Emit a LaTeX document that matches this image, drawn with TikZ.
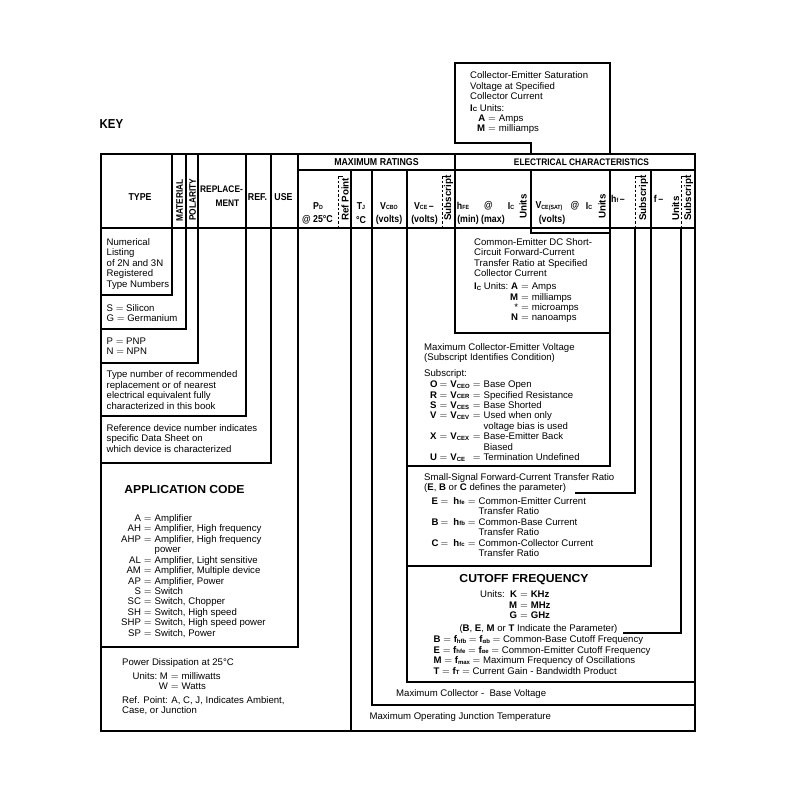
\documentclass[tikz,border=0pt]{standalone}
\usepackage{fontspec}
\usepackage{graphicx}
\setmainfont{Liberation Sans}
\newfontfamily\hfont{Liberation Sans}[FakeStretch=0.88]
\newcommand\sbs[1]{\raisebox{-0.5pt}{\fontsize{6}{6}\selectfont #1}}
\newcommand\eq{\ensuremath{=}}
\tikzset{
  ln/.style={line width=1.2pt},
  dsh/.style={line width=0.8pt, dash pattern=on 2.5pt off 2pt},
  tk/.style={line width=0.8pt},
  hd/.style={inner sep=0pt, font=\hfont\bfseries\fontsize{10}{11}\selectfont},
  rt/.style={inner sep=0pt, rotate=90, anchor=west, font=\bfseries\fontsize{9.8}{10}\selectfont},
  rtc/.style={inner sep=0pt, rotate=90, anchor=west, font=\hfont\bfseries\fontsize{9.5}{10}\selectfont},
  tx/.style={inner sep=0pt, anchor=north west, align=left, font=\fontsize{9.6}{10.45}\selectfont},
  tb/.style={inner sep=0pt, anchor=north west, font=\fontsize{9.6}{10.45}\selectfont},
  ttl/.style={inner sep=0pt, font=\bfseries\fontsize{11.6}{13}\selectfont},
}
\begin{document}
\begin{tikzpicture}[x=1pt,y=-1pt]
\fill[white] (0,0) rectangle (800,800);
\useasboundingbox (0,0) rectangle (800,800);

% ---------- frame and rules ----------
\draw[ln] (101,154) rectangle (695,731);
\draw[ln] (298,170) -- (695,170);
\draw[ln] (101,228) -- (695,228);
% left column boxes
\draw[ln] (172,154) |- (101,295);
\draw[ln] (186,154) |- (101,329);
\draw[ln] (198,154) |- (101,363);
\draw[ln] (246,154) |- (101,416);
\draw[ln] (271,154) |- (101,463);
\draw[ln] (298,154) |- (101,647);
\draw[ln] (351,170) -- (351,731);
\draw[ln] (372,170) |- (695,705);
\draw[ln] (407,170) |- (695,682);
\draw[ln] (455,154) |- (610,333);
% saturation box on top
\draw[ln] (531,154) -- (531,143) -- (455,143) -- (455,63) -- (610,63) -- (610,154);
\draw[ln] (531,170) |- (610,233);
\draw[ln] (610,170) |- (407,466);
\draw[ln] (651,170) |- (407,566);
% dashed sub-column dividers
\draw[dsh] (338,176) -- (338,227);  \draw[tk] (338,176) -- (343,176);
\draw[dsh] (442,176) -- (442,227);  \draw[tk] (442,176) -- (447,176);
\draw[dsh] (635,176) -- (635,228);  \draw[tk] (635,176) -- (640,176);
\draw[dsh] (681,176) -- (681,228);  \draw[tk] (681,176) -- (686,176);

% ---------- header texts ----------
\node[hd, font=\hfont\bfseries\fontsize{13}{14}\selectfont] (key) at (111.5,124) {KEY};
\node[hd] (mr) at (376.5,162) {MAXIMUM RATINGS};
\node[hd, font=\hfont\bfseries\fontsize{9.5}{11}\selectfont] (ec) at (581.5,162) {ELECTRICAL CHARACTERISTICS};
\node[hd] (type) at (140,197) {TYPE};
\node[rtc] (mat) at (179.5,222) {MATERIAL};
\node[rtc] (pol) at (192.5,221) {POLARITY};
\node[hd, font=\hfont\bfseries\fontsize{9.5}{11}\selectfont] (rep1) at (221.5,189.5) {REPLACE-};
\node[hd, font=\hfont\bfseries\fontsize{9.5}{11}\selectfont] (rep2) at (227.5,203) {MENT};
\node[hd] (refh) at (257.5,197) {REF.};
\node[hd] (useh) at (283.5,197) {USE};
\node[hd] (pd) at (318,206) {P\sbs{D}};
\node[hd] (pd2) at (317.5,220) {@ 25°C};
\node[rt] (rp) at (345,221) {Ref Point};
\node[hd] (tj) at (361,206) {T\sbs{J}};
\node[hd] (tj2) at (361,220) {°C};
\node[hd] (vcbo) at (389,206) {V\sbs{CBO}};
\node[hd] (vcbo2) at (389,220) {(volts)};
\node[hd] (vce) at (424,206) {V\sbs{CE}\,–};
\node[hd] (vce2) at (424.5,220) {(volts)};
\node[rt] (vces) at (448.5,221) {Subscript};
\node[hd] (hfe) at (463,206) {h\sbs{FE}};
\node[hd] (at1) at (488.5,206) {@};
\node[hd] (ic1) at (511,206) {I\sbs{C}};
\node[hd] (mm) at (481,220) {(min) (max)};
\node[rt] (un1) at (523,219) {Units};
\node[hd] (sat) at (549,206) {V\sbs{CE(SAT)}};
\node[hd] (at2) at (575,206) {@};
\node[hd] (ic2) at (589,206) {I\sbs{C}};
\node[hd] (sat2) at (552,220) {(volts)};
\node[rt] (un2) at (602,219) {Units};
\node[hd] (hf) at (618,199) {h\sbs{f}\,–};
\node[rt] (hfs) at (643.5,221) {Subscript};
\node[hd] (fcol) at (658.5,199) {{f}\,–};
\node[rt] (fu) at (675.5,221) {Units};
\node[rt] (fs) at (688.5,221) {Subscript};

% ---------- left column explanations ----------
\node[tx] (t1) at (106.5,238.2) {Numerical\\Listing\\of 2N and 3N\\Registered\\Type Numbers};
\node[tx] (t2) at (106.5,304.2) {S \eq{} Silicon\\G \eq{} Germanium};
\node[tx] (t3) at (106.5,337.2) {P \eq{} PNP\\N \eq{} NPN};
\node[tx] (t4) at (106.5,370.5) {Type number of recommended\\replacement or of nearest\\electrical equivalent fully\\characterized in this book};
\node[tx] (t5) at (106.5,424.2) {Reference device number indicates\\specific Data Sheet on\\which device is characterized};
\node[ttl] (app) at (184.5,489.5) {\scalebox{1.05}[1]{APPLICATION CODE}};
\node[tb] (appl) at (121,513.8) {\begin{tabular}{@{}r@{\hspace{3pt}}c@{\hspace{3pt}}l@{}}
A & \eq & Amplifier\\
AH & \eq & Amplifier, High frequency\\
AHP & \eq & Amplifier, High frequency\\
 & & power\\
AL & \eq & Amplifier, Light sensitive\\
AM & \eq & Amplifier, Multiple device\\
AP & \eq & Amplifier, Power\\
S & \eq & Switch\\
SC & \eq & Switch, Chopper\\
SH & \eq & Switch, High speed\\
SHP & \eq & Switch, High speed power\\
SP & \eq & Switch, Power
\end{tabular}};
\node[tx] (pdt) at (122,658.5) {Power Dissipation at 25°C};
\node[tb] (pdu) at (132.5,671.8) {\begin{tabular}{@{}r@{\hspace{3pt}}c@{\hspace{3pt}}l@{}}
Units:\ M & \eq & milliwatts\\
W & \eq & Watts
\end{tabular}};
\node[tx] (pdr) at (122,696.2) {Ref. Point: A, C, J, Indicates Ambient,\\Case, or Junction};

% ---------- saturation box ----------
\node[tx] (satt) at (470,71.5) {Collector-Emitter Saturation\\Voltage at Specified\\Collector Current};
\node[tx] (satu) at (470,104.2) {\textbf{I\sbs{C}} Units:};
\node[tb] (satl) at (477,113.8) {\begin{tabular}{@{}r@{\hspace{3pt}}c@{\hspace{3pt}}l@{}}
\textbf{A} & \eq & Amps\\
\textbf{M} & \eq & milliamps
\end{tabular}};

% ---------- hFE box ----------
\node[tx] (hfet) at (474,238.2) {Common-Emitter DC Short-\\Circuit Forward-Current\\Transfer Ratio at Specified\\Collector Current};
\node[tb] (hfeu) at (474,282.1) {\begin{tabular}{@{}r@{\hspace{3pt}}c@{\hspace{3pt}}l@{}}
\textbf{I\sbs{C}} Units:\ \textbf{A} & \eq & Amps\\
\textbf{M} & \eq & milliamps\\
{*} & \eq & microamps\\
\textbf{N} & \eq & nanoamps
\end{tabular}};

% ---------- VCE box ----------
\node[tx] (vcet) at (424,343.2) {Maximum Collector-Emitter Voltage\\(Subscript Identifies Condition)};
\node[tx] (vcesub) at (424,369.8) {Subscript:};
\node[tb] (vcel) at (430,380.1) {\begin{tabular}{@{}l@{\hspace{2pt}}c@{\hspace{3pt}}l@{\hspace{3pt}}c@{\hspace{3pt}}l@{}}
\textbf{O} & \eq & \textbf{V\sbs{CEO}} & \eq & Base Open\\
\textbf{R} & \eq & \textbf{V\sbs{CER}} & \eq & Specified Resistance\\
\textbf{S} & \eq & \textbf{V\sbs{CES}} & \eq & Base Shorted\\
\textbf{V} & \eq & \textbf{V\sbs{CEV}} & \eq & Used when only\\
 & & & & voltage bias is used\\
\textbf{X} & \eq & \textbf{V\sbs{CEX}} & \eq & Base-Emitter Back\\
 & & & & Biased\\
\textbf{U} & \eq & \textbf{V\sbs{CE}} & \eq & Termination Undefined
\end{tabular}};

% ---------- hf box ----------
\node[tx] (hft) at (424,473.2) {Small-Signal Forward-Current Transfer Ratio};
\node[tx] (hfp) at (424,483.7) {(\textbf{E}, \textbf{B} or \textbf{C} defines the parameter)};
\node[tb] (hfl) at (431.5,496.8) {\begin{tabular}{@{}l@{\hspace{2pt}}c@{\hspace{5pt}}l@{\hspace{3pt}}c@{\hspace{3pt}}l@{}}
\textbf{E} & \eq & \textbf{h\sbs{fe}} & \eq & Common-Emitter Current\\
 & & & & Transfer Ratio\\
\textbf{B} & \eq & \textbf{h\sbs{fb}} & \eq & Common-Base Current\\
 & & & & Transfer Ratio\\
\textbf{C} & \eq & \textbf{h\sbs{fc}} & \eq & Common-Collector Current\\
 & & & & Transfer Ratio
\end{tabular}};
\coordinate (hfend) at ([xshift=9pt]hfp.east);
\draw[ln] (635,228) -- (635,493) -- (hfend |- 0,493);

% ---------- cutoff frequency box ----------
\node[ttl] (cf) at (524,580) {\scalebox{1.05}[1]{CUTOFF FREQUENCY}};
\node[tb] (cfu) at (480,590.4) {\begin{tabular}{@{}r@{\hspace{3pt}}c@{\hspace{3pt}}l@{}}
Units:\ \ \textbf{K} & \eq & \textbf{KHz}\\
\textbf{M} & \eq & \textbf{MHz}\\
\textbf{G} & \eq & \textbf{GHz}
\end{tabular}};
\node[tx] (cfp) at (459.3,624.2) {(\textbf{B}, \textbf{E}, \textbf{M} or \textbf{T} Indicate the Parameter)};
\node[tx] (cfl) at (433.5,635.5) {\textbf{B} \eq{} \textbf{f\sbs{hfb}} \eq{} \textbf{f\sbs{αb}} \eq{} Common-Base Cutoff Frequency\\
\textbf{E} \eq{} \textbf{f\sbs{hfe}} \eq{} \textbf{f\sbs{αe}} \eq{} Common-Emitter Cutoff Frequency\\
\textbf{M} \eq{} \textbf{f\sbs{max}} \eq{} Maximum Frequency of Oscillations\\
\textbf{T} \eq{} \textbf{f\sbs{T}} \eq{} Current Gain - Bandwidth Product};
\coordinate (fend) at ([xshift=5pt]cfp.east);
\draw[ln] (681,228) -- (681,633) -- (fend |- 0,633);

% ---------- bottom rows ----------
\node[tx] (vcbot) at (396,689.2) {Maximum Collector -\ \ Base Voltage};
\node[tx] (tjt) at (369.3,712.5) {Maximum Operating Junction Temperature};
\end{tikzpicture}
\end{document}
